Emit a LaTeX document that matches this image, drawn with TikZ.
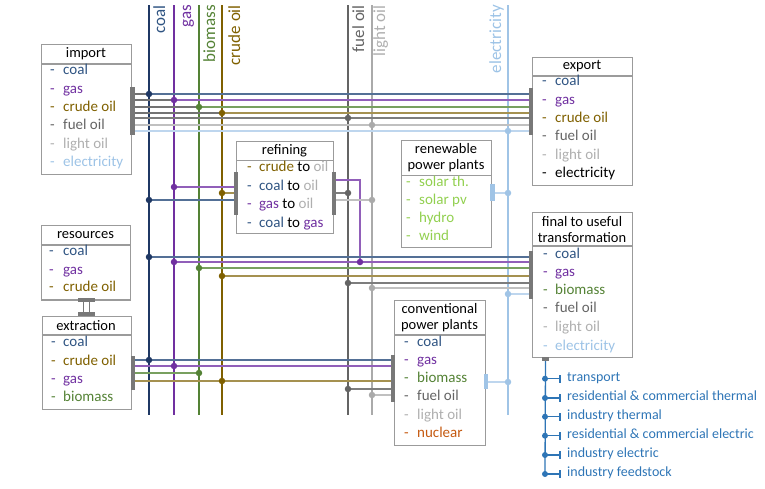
\documentclass[tikz,border=0pt]{standalone}
\usepackage{fontspec}
\setmainfont{Carlito}
\definecolor{coalL}{RGB}{31,56,100}
\definecolor{coalH}{RGB}{84,112,150}
\definecolor{coalT}{RGB}{47,84,130}
\definecolor{gasL}{RGB}{112,48,160}
\definecolor{gasH}{RGB}{145,95,185}
\definecolor{gasT}{RGB}{112,48,160}
\definecolor{bioL}{RGB}{84,130,53}
\definecolor{bioH}{RGB}{120,160,95}
\definecolor{bioT}{RGB}{84,130,53}
\definecolor{crudeL}{RGB}{127,96,0}
\definecolor{crudeH}{RGB}{165,145,80}
\definecolor{crudeT}{RGB}{127,96,0}
\definecolor{fuelL}{RGB}{100,100,100}
\definecolor{fuelH}{RGB}{125,125,125}
\definecolor{fuelT}{RGB}{100,100,100}
\definecolor{lightL}{RGB}{170,170,170}
\definecolor{lightH}{RGB}{192,192,192}
\definecolor{lightT}{RGB}{175,175,175}
\definecolor{elecL}{RGB}{160,196,230}
\definecolor{elecH}{RGB}{190,214,238}
\definecolor{elecT}{RGB}{157,195,230}
\definecolor{renT}{RGB}{146,208,80}
\definecolor{nucT}{RGB}{197,90,17}
\definecolor{outB}{RGB}{46,117,182}
\definecolor{boxG}{RGB}{155,155,155}
\definecolor{barG}{RGB}{120,120,120}
\definecolor{segG}{RGB}{115,115,115}
\newcommand\myitem[6]{\node[itm,text=#5] (#1d) at (#2,#4) {-}; \node[itm,text=#5] (#1) at (#3,#4) {#6};}
\newcommand\myconv[6]{\node[itm,text=#5] (#1d) at (#2,#4) {-}; \node[itm,text=black] (#1) at (#3,#4) {#6};}
\begin{document}
\begin{tikzpicture}[x=1pt,y=-1pt,
  bus/.style={line width=1.7pt},
  flow/.style={line width=1.1pt},
  dot/.style={circle,fill=#1,inner sep=0pt,minimum size=6.5pt},
  box/.style={draw=boxG,line width=1.2pt,inner sep=0pt,anchor=north west},
  sep/.style={draw=boxG,line width=1.2pt},
  hdr/.style={font=\fontsize{14.5}{16}\selectfont,align=center,inner sep=0pt},
  itm/.style={anchor=mid west,inner sep=0pt,font=\fontsize{15}{18}\selectfont},
  lbl/.style={rotate=90,anchor=base east,inner sep=0pt,font=\fontsize{17}{20}\selectfont},
  bar/.style={fill=#1,draw=none,inner sep=0pt},
  bar/.default=barG,
  outtxt/.style={anchor=mid west,inner sep=0pt,font=\fontsize{14}{16}\selectfont,text=outB},
]
\useasboundingbox (0,0) rectangle (765,488);

% ---------- bars (nodes first, so flows can refer to them)
\node[bar,minimum width=4pt,minimum height=48pt] (imbar) at (132.5,111) {};
\node[bar,minimum width=4pt,minimum height=47pt] (exbar) at (531,111.5) {};
\node[bar,minimum width=4pt,minimum height=43pt] (rfl) at (236,193.5) {};
\node[bar,minimum width=4pt,minimum height=43pt] (rfr) at (334,193.5) {};
\node[bar=elecL,minimum width=4pt,minimum height=16pt] (rnbar) at (492.5,192.5) {};
\node[bar,minimum width=4pt,minimum height=48pt] (fubar) at (531,275) {};
\node[bar,minimum width=4pt,minimum height=34pt] (xtbar) at (133,373) {};
\node[bar,minimum width=4pt,minimum height=47pt] (cpl) at (393,378.5) {};
\node[bar=elecL,minimum width=4pt,minimum height=15pt] (cpr) at (486,381.5) {};

% ---------- buses
\foreach \n/\x/\c in {coal/149/coalL,gas/174/gasL,bio/199/bioL,crude/222/crudeL,fuel/348/fuelL,light/372/lightL,elec/508/elecL}{
  \coordinate (\n-top) at (\x,5);
  \coordinate (\n-bot) at (\x,415);
  \draw[bus,\c] (\n-top) -- (\n-bot);
}
\node[lbl,text=coalT] (lab-coal) at (165,5) {coal};
\node[lbl,text=gasT] (lab-gas) at (191,5) {gas};
\node[lbl,text=bioT] (lab-bio) at (215,5) {biomass};
\node[lbl,text=crudeT] (lab-crude) at (240,5) {crude oil};
\node[lbl,text=fuelT] (lab-fuel) at (364,5) {fuel oil};
\node[lbl,text=lightT] (lab-light) at (385,5) {light oil};
\node[lbl,text=elecT] (lab-elec) at (501,5) {electricity};

% ---------- junction coordinates
\coordinate (i1) at (149,94);  \coordinate (i2) at (174,100); \coordinate (i3) at (199,107);
\coordinate (i4) at (222,113); \coordinate (i5) at (348,118); \coordinate (i6) at (372,125);
\coordinate (i7) at (508,131);
\coordinate (r1) at (174,187); \coordinate (r2) at (222,193); \coordinate (r3) at (149,200);
\coordinate (r4) at (348,193); \coordinate (r5) at (372,200); \coordinate (r6) at (360,262);
\coordinate (rk) at (360,180);
\coordinate (f1) at (149,257); \coordinate (f2) at (174,262); \coordinate (f3) at (199,268);
\coordinate (f4) at (222,276); \coordinate (f5) at (348,283); \coordinate (f6) at (372,288);
\coordinate (f7) at (508,294);
\coordinate (x1) at (149,360); \coordinate (x2) at (174,366); \coordinate (x3) at (199,373);
\coordinate (x4) at (222,381); \coordinate (x5) at (348,389); \coordinate (x6) at (372,395);
\coordinate (e1) at (508,193); \coordinate (e2) at (508,382);

% ---------- import -> export
\draw[flow,segG] (imbar.east |- i1) -- (i1);
\draw[flow,coalH] (i1) -- (exbar.west |- i1);
\draw[flow,segG] (imbar.east |- i2) -- (i2);
\draw[flow,gasH] (i2) -- (exbar.west |- i2);
\draw[flow,segG] (imbar.east |- i3) -- (i3);
\draw[flow,bioH] (i3) -- (exbar.west |- i3);
\draw[flow,segG] (imbar.east |- i4) -- (i4);
\draw[flow,crudeH] (i4) -- (exbar.west |- i4);
\draw[flow,fuelH] (imbar.east |- i5) -- (exbar.west |- i5);
\draw[flow,lightH] (imbar.east |- i6) -- (exbar.west |- i6);
\draw[flow,elecH] (imbar.east |- i7) -- (exbar.west |- i7);

% ---------- refining
\draw[flow,gasH] (r1) -- (rfl.west |- r1);
\draw[flow,crudeH] (r2) -- (rfl.west |- r2);
\draw[flow,coalH] (r3) -- (rfl.west |- r3);
\draw[flow,gasH] (rfr.east |- rk) -- (rk) -- (r6);
\draw[flow,fuelH] (rfr.east |- r4) -- (r4);
\draw[flow,lightH] (rfr.east |- r5) -- (r5);

% ---------- to final-to-useful
\draw[flow,coalH] (f1) -- (fubar.west |- f1);
\draw[flow,gasH] (f2) -- (fubar.west |- f2);
\draw[flow,bioH] (f3) -- (fubar.west |- f3);
\draw[flow,crudeH] (f4) -- (fubar.west |- f4);
\draw[flow,fuelH] (f5) -- (fubar.west |- f5);
\draw[flow,lightH] (f6) -- (fubar.west |- f6);
\draw[flow,elecH] (f7) -- (fubar.west |- f7);

% ---------- extraction -> conventional
\draw[flow,coalH] (xtbar.east |- x1) -- (cpl.west |- x1);
\draw[flow,gasH] (xtbar.east |- x2) -- (cpl.west |- x2);
\draw[flow,bioH] (xtbar.east |- x3) -- (x3);
\draw[line width=1.7pt,crudeH] (xtbar.east |- x4) -- (cpl.west |- x4);
\draw[flow,fuelH] (x5) -- (cpl.west |- x5);
\draw[flow,lightH] (x6) -- (cpl.west |- x6);

% ---------- electricity
\draw[flow,elecH] (rnbar.east |- e1) -- (e1);
\draw[flow,elecH] (cpr.east |- e2) -- (e2);

% ---------- boxes
% import
\node[box,minimum width=90pt,minimum height=130pt] (import) at (41,44) {};
\draw[sep] (import.west |- 0,64) -- (import.east |- 0,64);
\node[hdr] (import-h) at (86,54) {import};
\myitem{im1}{50}{63}{71.7}{coalT}{coal}
\myitem{im2}{50}{63}{90.7}{gasT}{gas}
\myitem{im3}{50}{63}{109}{crudeT}{crude oil}
\myitem{im4}{50}{63}{127.3}{fuelT}{fuel oil}
\myitem{im5}{50}{63}{145.7}{lightT}{light oil}
\myitem{im6}{50}{63}{164}{elecT}{electricity}
% export
\node[box,minimum width=100pt,minimum height=128pt] (export) at (532,57) {};
\draw[sep] (export.west |- 0,76) -- (export.east |- 0,76);
\node[hdr] (export-h) at (582,66.5) {export};
\myitem{ex1}{542}{555}{83.3}{coalT}{coal}
\myitem{ex2}{542}{555}{101.7}{gasT}{gas}
\myitem{ex3}{542}{555}{120}{crudeT}{crude oil}
\myitem{ex4}{542}{555}{138.3}{fuelT}{fuel oil}
\myitem{ex5}{542}{555}{156.7}{lightT}{light oil}
\myitem{ex6}{542}{555}{175}{black}{electricity}
% refining
\node[box,minimum width=97pt,minimum height=92pt] (refining) at (236,141) {};
\draw[sep] (refining.west |- 0,160.7) -- (refining.east |- 0,160.7);
\node[hdr] (refining-h) at (284.5,151) {refining};
\myconv{rf1}{247}{259}{169.3}{crudeT}{\textcolor{crudeT}{crude} to \textcolor{lightT}{oil}}
\myconv{rf2}{247}{259}{187.7}{coalT}{\textcolor{coalT}{coal} to \textcolor{lightT}{oil}}
\myconv{rf3}{247}{259}{205.7}{gasT}{\textcolor{gasT}{gas} to \textcolor{lightT}{oil}}
\myconv{rf4}{247}{259}{225}{coalT}{\textcolor{coalT}{coal} to \textcolor{gasT}{gas}}
% renewable
\node[box,minimum width=90pt,minimum height=106.5pt] (renew) at (401,140) {};
\draw[sep] (renew.west |- 0,175.7) -- (renew.east |- 0,175.7);
\node[hdr] (renew-h) at (446,157.5) {renewable\\power plants};
\myitem{rn1}{406}{419}{184.3}{renT}{solar th.}
\myitem{rn2}{406}{419}{202}{renT}{solar pv}
\myitem{rn3}{406}{419}{220}{renT}{hydro}
\myitem{rn4}{406}{419}{238.3}{renT}{wind}
% resources
\node[box,minimum width=89.5pt,minimum height=74.3pt] (resources) at (40.7,225) {};
\draw[sep] (resources.west |- 0,245) -- (resources.east |- 0,245);
\node[hdr] (resources-h) at (85.5,235) {resources};
\myitem{rs1}{49}{63}{252.7}{coalT}{coal}
\myitem{rs2}{49}{63}{271.7}{gasT}{gas}
\myitem{rs3}{49}{63}{289.3}{crudeT}{crude oil}
% extraction
\node[box,minimum width=89.5pt,minimum height=93pt] (extraction) at (41.5,316) {};
\draw[sep] (extraction.west |- 0,335) -- (extraction.east |- 0,335);
\node[hdr] (extraction-h) at (86,325.7) {extraction};
\myitem{xt1}{51}{63}{344}{coalT}{coal}
\myitem{xt2}{51}{63}{362.7}{crudeT}{crude oil}
\myitem{xt3}{51}{63}{381}{gasT}{gas}
\myitem{xt4}{51}{63}{399.3}{bioT}{biomass}
% conventional
\node[box,minimum width=91pt,minimum height=144.5pt] (conv) at (394,300) {};
\draw[sep] (conv.west |- 0,335) -- (conv.east |- 0,335);
\node[hdr] (conv-h) at (439.5,317.5) {conventional\\power plants};
\myitem{cp1}{404}{417}{344}{coalT}{coal}
\myitem{cp2}{404}{417}{362.3}{gasT}{gas}
\myitem{cp3}{404}{417}{380.3}{bioT}{biomass}
\myitem{cp4}{404}{417}{398.3}{fuelT}{fuel oil}
\myitem{cp5}{404}{417}{416.7}{lightT}{light oil}
\myitem{cp6}{404}{417}{435}{nucT}{nuclear}
% final to useful
\node[box,minimum width=100pt,minimum height=145pt] (final) at (532,212) {};
\draw[sep] (final.west |- 0,246) -- (final.east |- 0,246);
\node[hdr] (final-h) at (582,229.5) {final to useful\\transformation};
\myitem{fu1}{543}{555}{256}{coalT}{coal}
\myitem{fu2}{543}{555}{274}{gasT}{gas}
\myitem{fu3}{543}{555}{291.7}{bioT}{biomass}
\myitem{fu4}{543}{555}{310}{fuelT}{fuel oil}
\myitem{fu5}{543}{555}{329}{lightT}{light oil}
\myitem{fu6}{543}{555}{347.7}{elecT}{electricity}

% ---------- bars drawn on top of boxes
\foreach \b in {imbar,exbar,rfl,rfr,fubar,xtbar,cpl}{\fill[barG] (\b.north west) rectangle (\b.south east);}
\foreach \b in {rnbar,cpr}{\fill[elecL] (\b.north west) rectangle (\b.south east);}

% resources -> extraction link
\node[bar,minimum width=17pt,minimum height=4pt] (rc1) at (86.5,300) {};
\node[bar,minimum width=17pt,minimum height=4pt] (rc2) at (86.5,314) {};
\draw[barG,line width=0.9pt] (rc1.south -| 83,0) -- (rc2.north -| 83,0);
\draw[barG,line width=0.9pt] (rc1.south -| 89,0) -- (rc2.north -| 89,0);

% ---------- dots
\foreach \p/\c in {i1/coalL,i2/gasL,i3/bioL,i4/crudeL,i5/fuelL,i6/lightL,i7/elecL,
  r1/gasL,r2/crudeL,r3/coalL,r4/fuelL,r5/lightL,r6/gasL,
  f1/coalL,f2/gasL,f3/bioL,f4/crudeL,f5/fuelL,f6/lightL,f7/elecL,
  x1/coalL,x2/gasL,x3/bioL,x4/crudeL,x5/fuelL,x6/lightL,e1/elecL,e2/elecL}{
  \node[dot=\c] (d-\p) at (\p) {};
}

% ---------- useful energy outputs
\node[bar,minimum width=7pt,minimum height=4pt] (fsq) at (545.5,359) {};
\coordinate (b1) at (545,378.7); \coordinate (b2) at (545,398); \coordinate (b3) at (545,416.7);
\coordinate (b4) at (545,435.7); \coordinate (b5) at (545,455); \coordinate (b6) at (545,474);
\draw[outB,line width=1.3pt] (fsq.south) -- (b6);
\foreach \k/\t in {1/transport,2/residential \& commercial thermal,3/industry thermal,4/residential \& commercial electric,5/industry electric,6/industry feedstock}{
  \node[bar=outB,minimum width=2.5pt,minimum height=8pt] (t\k) at (560,0 |- b\k) {};
  \draw[outB,line width=1.3pt] (b\k) -- (t\k.west);
  \node[dot=outB,minimum size=6pt] (bd\k) at (b\k) {};
  \node[outtxt] (o\k) at (567,0 |- b\k) {\t};
}
\end{tikzpicture}
\end{document}
